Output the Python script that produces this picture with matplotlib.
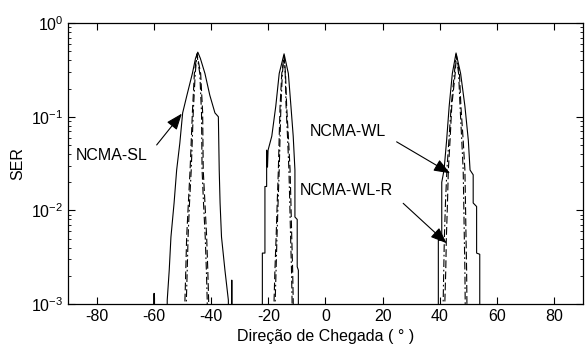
import numpy as np
import matplotlib
matplotlib.use('Agg')
import matplotlib.pyplot as plt

plt.rcParams['font.family'] = ['Liberation Sans', 'DejaVu Sans']
plt.rcParams['axes.unicode_minus'] = False

# NCMA-SL (solid), three peaks, SER (1e-5 = off-axis)
ang_sl = [-60.2, -60.0, -59.8, -55.6, -55.4, -54.7, -54.1, -53.0, -52.1, -51.0, -50.0, -48.5,
          -46.6, -45.5, -44.7, -43.8, -42.2, -40.5, -38.7, -37.5, -37.2, -36.9, -36.4, -35.2,
          -34.0, -33.8, -33.0, -32.8, -32.6,
          -22.3, -22.1, -22.1, -21.2, -21.2, -20.6, -20.6, -20.3, -20.1, -18.8, -17.4, -16.2,
          -14.5, -13.0, -12.1, -11.3, -10.7, -10.7, -9.9, -9.9, -9.5, -9.5, -9.3,
          39.3, 39.5, 39.5, 40.7, 40.7, 41.5, 42.4, 43.3, 44.4, 45.7, 47.3, 48.8, 50.0, 50.6,
          51.7, 51.7, 52.9, 52.9, 54.0, 54.0, 54.2]
ser_sl = [1e-5, 1.3e-3, 1e-5, 1e-5, 1.1e-3, 2.3e-3, 5.2e-3, 1.2e-2, 2.7e-2, 5.2e-2, 0.11, 0.17,
          0.29, 0.42, 0.49, 0.42, 0.29, 0.17, 0.11, 0.10, 2.7e-2, 1.2e-2, 5.2e-3, 2.3e-3,
          1.1e-3, 1e-5, 1e-5, 1.8e-3, 1e-5,
          1e-5, 1.1e-3, 3.5e-3, 3.5e-3, 1.8e-2, 1.8e-2, 4.4e-2, 2.9e-2, 4.4e-2, 6.2e-2, 0.13, 0.29,
          0.47, 0.29, 0.13, 6.2e-2, 2.7e-2, 8.5e-3, 8.0e-3, 2.5e-3, 2.3e-3, 1.1e-3, 1e-5,
          1e-5, 1.1e-3, 4.8e-3, 4.8e-3, 2.0e-2, 2.7e-2, 5.6e-2, 0.13, 0.29, 0.48, 0.29, 0.13, 5.6e-2, 2.7e-2,
          2.4e-2, 1.2e-2, 1.1e-2, 3.5e-3, 3.4e-3, 1.1e-3, 1e-5]

# NCMA-WL (dashed)
ang_wl = [-49.4, -49.2, -48.9, -48.6, -48.0, -47.4, -46.6, -45.9, -45.0, -43.7, -43.0, -42.8,
          -42.2, -41.6, -41.2, -40.9, -40.7,
          -18.2, -18.0, -17.7, -17.3, -16.9, -16.5, -16.2, -15.9, -15.3, -14.5, -14.0, -13.6,
          -13.0, -12.4, -12.1, -11.8, -11.5, -11.3, -11.1,
          41.6, 41.8, 42.1, 42.3, 42.7, 43.0, 43.6, 44.2, 45.4, 45.8, 46.9, 47.4, 48.2, 48.8,
          49.0, 49.2, 49.4, 49.5, 49.7]
ser_wl = [1e-5, 1.1e-3, 2.3e-3, 5.2e-3, 1.2e-2, 2.7e-2, 0.11, 0.29, 0.47, 0.29, 0.11, 2.7e-2,
          1.2e-2, 5.2e-3, 2.3e-3, 1.1e-3, 1e-5,
          1e-5, 1.1e-3, 2.3e-3, 5e-3, 1.2e-2, 2.7e-2, 6.2e-2, 0.13, 0.29, 0.45, 0.29, 0.13,
          6.2e-2, 2.7e-2, 1.2e-2, 5e-3, 2.3e-3, 1.1e-3, 1e-5,
          1e-5, 1.1e-3, 2.3e-3, 5e-3, 1.2e-2, 2.7e-2, 5.6e-2, 0.13, 0.29, 0.46, 0.29, 0.13, 5.6e-2, 2.7e-2,
          1.2e-2, 5e-3, 2.3e-3, 1.1e-3, 1e-5]

# NCMA-WL-R (dash-dot)
ang_wlr = [-48.9, -48.7, -48.4, -48.1, -47.6, -47.0, -46.3, -45.6, -45.0, -44.0, -43.4, -43.2,
           -42.7, -42.1, -41.7, -41.4, -41.2,
           -17.8, -17.6, -17.3, -17.0, -16.6, -16.2, -15.9, -15.6, -15.1, -14.5, -14.1, -13.8,
           -13.3, -12.8, -12.5, -12.2, -11.9, -11.7, -11.5,
           41.0, 41.2, 41.4, 41.6, 42.0, 42.5, 43.2, 44.0, 45.1, 45.7, 46.6, 47.1, 47.7, 48.2,
           48.4, 48.6, 48.8, 48.9, 49.1]
ser_wlr = [1e-5, 1.1e-3, 2.3e-3, 5.2e-3, 1.2e-2, 2.7e-2, 0.11, 0.29, 0.46, 0.29, 0.11, 2.7e-2,
           1.2e-2, 5.2e-3, 2.3e-3, 1.1e-3, 1e-5,
           1e-5, 1.1e-3, 2.3e-3, 5e-3, 1.2e-2, 2.7e-2, 6.2e-2, 0.13, 0.29, 0.44, 0.29, 0.13,
           6.2e-2, 2.7e-2, 1.2e-2, 5e-3, 2.3e-3, 1.1e-3, 1e-5,
           1e-5, 1.1e-3, 2.3e-3, 5e-3, 1.2e-2, 2.7e-2, 5.6e-2, 0.13, 0.29, 0.46, 0.29, 0.13, 5.6e-2, 2.7e-2,
           1.2e-2, 5e-3, 2.3e-3, 1.1e-3, 1e-5]

x_ticks = [-80, -60, -40, -20, 0, 20, 40, 60, 80]

# label text, label anchor (left, centre), arrow tail, arrow tip
labels = ['NCMA-SL', 'NCMA-WL', 'NCMA-WL-R']
label_pos = [(-87.3, 0.0385), (-5.4, 0.070), (-8.9, 0.0165)]
arrow_tail = [(-59.1, 0.050), (24.9, 0.054), (27.2, 0.0119)]
arrow_tip = [(-50.3, 0.108), (43.6, 0.0249), (42.4, 0.00446)]

fig = plt.figure(figsize=(5.87, 3.56), dpi=100)
ax = fig.add_axes([0.1165, 0.146, 0.876, 0.789])

ax.plot(ang_sl, ser_sl, color='black', lw=0.8, linestyle='-')
ax.plot(ang_wl, ser_wl, color='black', lw=0.8, dashes=(7, 3))
ax.plot(ang_wlr, ser_wlr, color='black', lw=0.8, dashes=(7, 2.5, 1.5, 2.5))

ax.set_yscale('log')
ax.set_xlim(-90, 90)
ax.set_ylim(1e-3, 1)
ax.set_xticks(x_ticks)
ax.tick_params(which='both', direction='in', top=True, right=True, labelsize=11.5)
ax.tick_params(which='major', length=5)
ax.tick_params(which='minor', length=2.5)
for s in ax.spines.values():
    s.set_linewidth(0.9)

ax.set_xlabel('Direção de Chegada ( ° )', fontsize=11.5)
ax.set_ylabel('SER', fontsize=11.5)

for txt, pos, tail, tip in zip(labels, label_pos, arrow_tail, arrow_tip):
    ax.text(pos[0], pos[1], txt, fontsize=11.5, ha='left', va='center')
    ax.annotate('', xy=tip, xytext=tail,
                arrowprops=dict(arrowstyle='-|>,head_length=0.9,head_width=0.35',
                                color='black', lw=0.8, mutation_scale=11,
                                shrinkA=0, shrinkB=0))

plt.savefig('out.png', dpi=100, facecolor='white')
